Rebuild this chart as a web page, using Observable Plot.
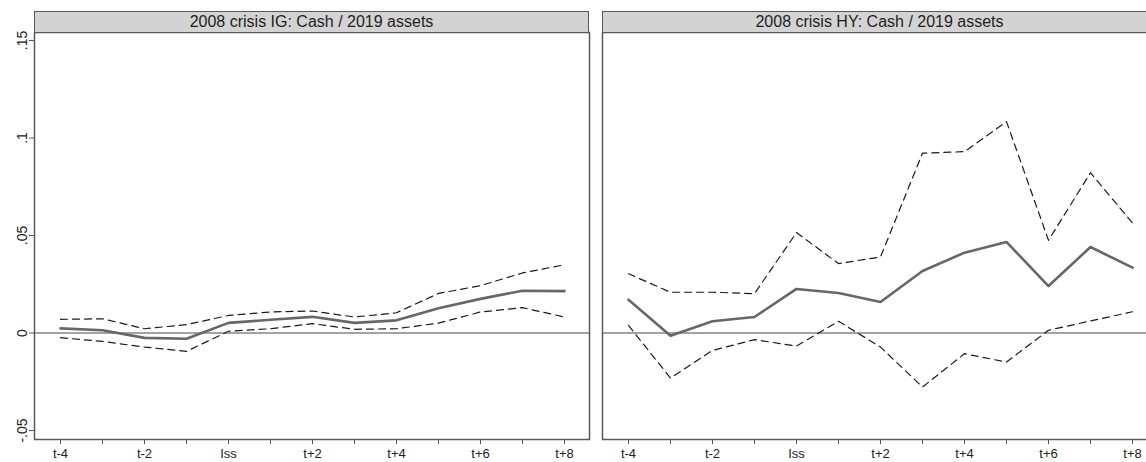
<!DOCTYPE html>
<html>
<head>
<meta charset="utf-8">
<script src="https://cdn.jsdelivr.net/npm/d3@7"></script>
<script src="https://cdn.jsdelivr.net/npm/@observablehq/plot@0.6"></script>
<style>
  body { margin: 0; background: #fff; overflow: hidden; font-family: "Liberation Sans", Arial, sans-serif; }
  #wrap { position: relative; width: 1146px; height: 462px; overflow: hidden; background: #fff; }
  .panel { position: absolute; top: 0; }
  .panel svg { max-width: none !important; display: block; }
  .strip {
    position: absolute; top: 11px; height: 22px; box-sizing: border-box;
    background: #d3d3d3; border: 1.5px solid #585858;
    font-size: 16px; color: #1e1e1e; text-align: center; line-height: 19px;
    white-space: nowrap; z-index: 2;
  }
</style>
</head>
<body>
<div id="wrap"></div>
<script>
// Event-time periods around bond issuance
const periods = ["t-4","t-3","t-2","t-1","Iss","t+1","t+2","t+3","t+4","t+5","t+6","t+7","t+8"];

// Investment-grade issuers: point estimate and confidence band
const igMean  = [0.0024, 0.0014, -0.0025, -0.0029, 0.0052, 0.0068, 0.0083, 0.0052, 0.0065, 0.0127, 0.0175, 0.0217, 0.0215];
const igUpper = [0.0070, 0.0073, 0.0022, 0.0043, 0.0090, 0.0108, 0.0113, 0.0082, 0.0104, 0.0203, 0.0243, 0.0308, 0.0350];
const igLower = [-0.0024, -0.0043, -0.0072, -0.0094, 0.0009, 0.0022, 0.0048, 0.0019, 0.0022, 0.0051, 0.0108, 0.0130, 0.0082];

// High-yield issuers: point estimate and confidence band
const hyMean  = [0.0171, -0.0014, 0.0060, 0.0082, 0.0226, 0.0205, 0.0159, 0.0318, 0.0412, 0.0467, 0.0241, 0.0441, 0.0335];
const hyUpper = [0.0304, 0.0209, 0.0209, 0.0202, 0.0515, 0.0356, 0.0390, 0.0922, 0.0930, 0.1084, 0.0475, 0.0822, 0.0564];
const hyLower = [0.0039, -0.0231, -0.0089, -0.0034, -0.0067, 0.0060, -0.0072, -0.0277, -0.0106, -0.0149, 0.0014, 0.0062, 0.0109];

// Y axis ticks and their labels
const yTicks = [-0.05, 0, 0.05, 0.1, 0.15];
const yTickLabels = ["-.05", "0", ".05", ".1", ".15"];

const titles = ["2008 crisis IG: Cash / 2019 assets", "2008 crisis HY: Cash / 2019 assets"];

const wrap = document.getElementById("wrap");

function rows(series) {
  return periods.map((p, i) => ({period: p, value: series[i]}));
}

function panel({title, mean, upper, lower, left, width, marginLeft, marginRight, showY}) {
  const marks = [
    Plot.ruleY([0], {stroke: "#858585", strokeWidth: 1.6}),
    Plot.line(rows(upper), {x: "period", y: "value", stroke: "#1a1a1a", strokeWidth: 1.2, strokeDasharray: "7,5"}),
    Plot.line(rows(lower), {x: "period", y: "value", stroke: "#1a1a1a", strokeWidth: 1.2, strokeDasharray: "7,5"}),
    Plot.line(rows(mean), {x: "period", y: "value", stroke: "#676767", strokeWidth: 2.6}),
    Plot.axisX({
      ticks: periods, tickSize: 5, tickPadding: 4, stroke: "#555", fill: "#222", fontSize: 13,
      tickFormat: d => (periods.indexOf(d) % 2 === 0 ? d : "")
    }),
    Plot.frame({stroke: "#585858", strokeWidth: 1.5})
  ];
  if (showY) {
    marks.push(
      Plot.axisY({ticks: yTicks, tickSize: 5, stroke: "#555", tickFormat: () => ""}),
      Plot.text(yTicks, {
        y: d => d, text: (d, i) => yTickLabels[i], frameAnchor: "left", dx: -8,
        rotate: -90, textAnchor: "middle", lineAnchor: "bottom", fontSize: 14, fill: "#222"
      })
    );
  } else {
    marks.push(Plot.axisY({ticks: [], label: null}));
  }
  const svg = Plot.plot({
    width, height: 462,
    marginLeft, marginRight, marginTop: 32, marginBottom: 23,
    style: {fontFamily: "'Liberation Sans', Arial, sans-serif", fontSize: "13px", background: "transparent"},
    x: {type: "point", domain: periods, padding: 0.5, label: null},
    y: {domain: [-0.0546, 0.1541], label: null},
    marks
  });
  const box = document.createElement("div");
  box.className = "panel";
  box.style.left = left + "px";
  box.style.width = width + "px";
  box.appendChild(svg);
  wrap.appendChild(box);

  const strip = document.createElement("div");
  strip.className = "strip";
  strip.style.left = (left + marginLeft) + "px";
  strip.style.width = (width - marginLeft - marginRight) + "px";
  strip.textContent = title;
  wrap.appendChild(strip);
}

panel({title: titles[0], mean: igMean, upper: igUpper, lower: igLower,
       left: 0, width: 595, marginLeft: 34, marginRight: 6, showY: true});
panel({title: titles[1], mean: hyMean, upper: hyUpper, lower: hyLower,
       left: 596, width: 566, marginLeft: 6, marginRight: 5, showY: false});
</script>
</body>
</html>
